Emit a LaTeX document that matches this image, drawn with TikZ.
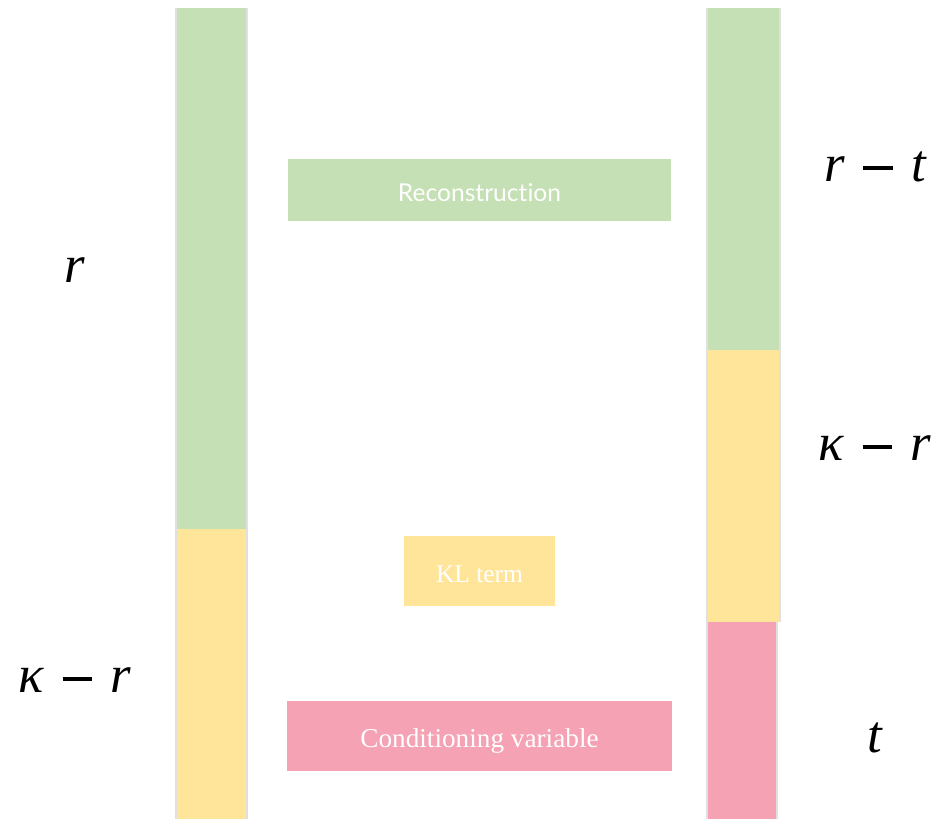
\documentclass[tikz,border=0pt]{standalone}
\usepackage{fontspec}
\setmainfont{Liberation Serif}
\newfontfamily\boxsans[Ligatures=NoCommon]{Lato}
\usetikzlibrary{positioning}
\definecolor{recgreen}{HTML}{C5E0B4}
\definecolor{klyellow}{HTML}{FFE599}
\definecolor{condpink}{HTML}{F4A2B4}
\newcommand{\barminus}{\hspace{0.1em}\rule[0.22em]{0.56em}{0.075em}\hspace{0.1em}}
\tikzset{
  termbox/.style={inner sep=0pt, text=white, text height=12.6pt, text depth=0pt,
    font=\fontsize{15}{17}\selectfont},
  sizelabel/.style={font=\fontsize{30}{34}\selectfont\itshape},
  baredge/.style={black!12, line width=1pt}
}

\begin{document}
\begin{tikzpicture}[x=0.02cm, y=-0.02cm]
  \useasboundingbox (0,0) rectangle (945,819);

  % left bar
  \fill[recgreen] (176,8) rectangle (246,529);
  \fill[klyellow] (176,529) rectangle (246,819);
  \draw[baredge] (247,8) -- (247,819);
  \draw[baredge] (176,8) -- (176,819);

  % right bar
  \fill[recgreen] (707,8) rectangle (779,350);
  \fill[klyellow] (707,350) rectangle (779,622);
  \fill[condpink] (707,622) rectangle (776,819);
  \draw[baredge] (780,8) -- (780,622);
  \draw[baredge] (707,8) -- (707,819);
  \draw[baredge] (777,622) -- (777,819);

  % terms
  \node[termbox, fill=recgreen, minimum width=383*0.02cm, minimum height=62*0.02cm,
        font=\boxsans\fontsize{14}{16}\selectfont] (rec) at (479.5,190) {Reconstruction};
  \node[termbox, fill=klyellow, minimum width=151*0.02cm, minimum height=70*0.02cm,
        font=\fontsize{14.5}{16}\selectfont] (kl) at (479.5,571) {KL term};
  \node[termbox, fill=condpink, minimum width=385*0.02cm, minimum height=70*0.02cm,
        font=\fontsize{15.5}{17}\selectfont] (cond) at (479.5,736) {Conditioning variable};

  % sizes
  \node[sizelabel] (lr) at (75,270) {r};
  \node[sizelabel] (lkr) at (75,680) {κ \barminus{} r};
  \node[sizelabel] (rrt) at (875,167) {r \barminus{} t};
  \node[sizelabel] (rkr) at (875,448) {κ \barminus{} r};
  \node[sizelabel] (rt) at (875,738) {t};
\end{tikzpicture}
\end{document}
